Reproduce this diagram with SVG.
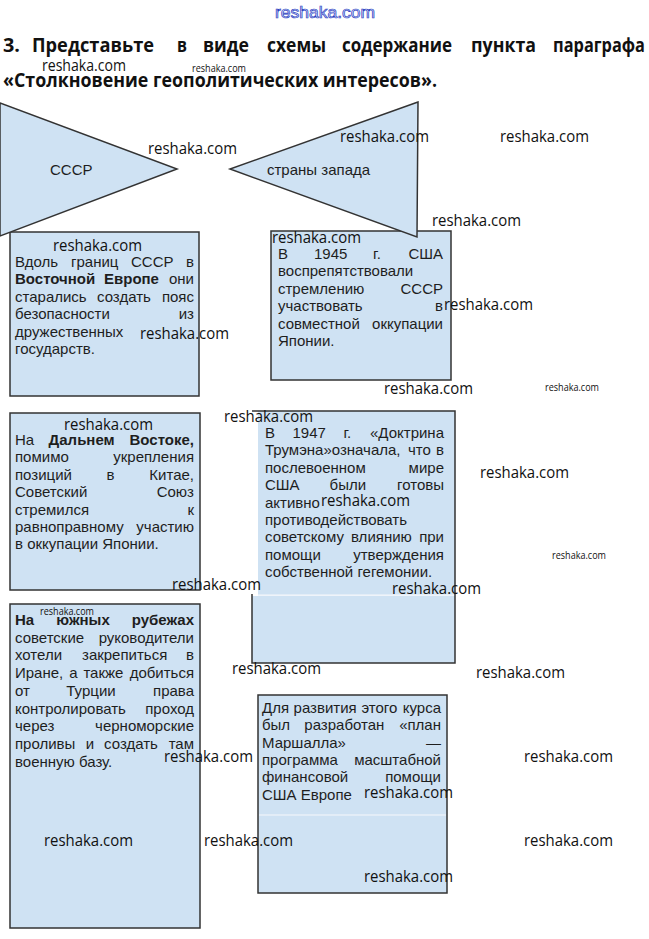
<svg xmlns="http://www.w3.org/2000/svg" width="649" height="939" viewBox="0 0 649 939">
<style>
.bg{fill:#ffffff}
.box{fill:#cfe2f3;stroke:#333;stroke-width:1.5}
.fill{fill:#cfe2f3}
.edge{fill:none;stroke:#333;stroke-width:1.5}
.sep{stroke:#eaf1f9;stroke-width:1.5}
.t{font-family:"Liberation Sans",Arial,sans-serif;font-size:15px;fill:#1e1e1e}
.b{font-weight:bold}
.h{font-family:"Open Sans","DejaVu Sans",sans-serif;font-size:19px;font-weight:bold;fill:#111}
.w{font-family:"Open Sans","Liberation Sans",sans-serif;font-size:16px;fill:#111}
.ws{font-size:10px}
.wt{font-family:"Liberation Sans",Arial,sans-serif;font-size:16px;fill:#e4e8ff;stroke:#2b3fbf;stroke-width:0.7}
</style>
<rect class="bg" x="0" y="0" width="649" height="939"/>

<g id="title">
<text class="h" x="3" y="52" textLength="17" lengthAdjust="spacingAndGlyphs">3.</text>
<text class="h" x="32" y="52" textLength="122" lengthAdjust="spacingAndGlyphs">Представьте</text>
<text class="h" x="177" y="52" textLength="10" lengthAdjust="spacingAndGlyphs">в</text>
<text class="h" x="203" y="52" textLength="46" lengthAdjust="spacingAndGlyphs">виде</text>
<text class="h" x="267" y="52" textLength="59" lengthAdjust="spacingAndGlyphs">схемы</text>
<text class="h" x="342" y="52" textLength="110" lengthAdjust="spacingAndGlyphs">содержание</text>
<text class="h" x="471" y="52" textLength="65" lengthAdjust="spacingAndGlyphs">пункта</text>
<text class="h" x="553" y="52" textLength="92" lengthAdjust="spacingAndGlyphs">параграфа</text>
<text class="h" x="3" y="87" textLength="434" lengthAdjust="spacingAndGlyphs">«Столкновение геополитических интересов».</text>
</g>

<g id="connectors"></g>

<g id="box-east-europe">
<rect class="box" x="10" y="232" width="189" height="164"/>
<text class="t" y="267"><tspan x="15">Вдоль</tspan><tspan x="71">границ</tspan><tspan x="131">СССР</tspan><tspan x="194" text-anchor="end">в</tspan></text>
<text class="t" y="284.4"><tspan x="15" class="b">Восточной</tspan><tspan x="104" class="b">Европе</tspan><tspan x="194" text-anchor="end">они</tspan></text>
<text class="t" y="301.8"><tspan x="15">старались</tspan><tspan x="97">создать</tspan><tspan x="194" text-anchor="end">пояс</tspan></text>
<text class="t" y="319.2"><tspan x="15">безопасности</tspan><tspan x="194" text-anchor="end">из</tspan></text>
<text class="t" x="15" y="336.6">дружественных</text>
<text class="t" x="15" y="354">государств.</text>
</g>

<g id="box-japan-1945">
<rect class="box" x="271" y="231" width="180" height="149"/>
<text class="t" y="259"><tspan x="278">В</tspan><tspan x="314">1945</tspan><tspan x="373">г.</tspan><tspan x="443" text-anchor="end">США</tspan></text>
<text class="t" x="278" y="276.4">воспрепятствовали</text>
<text class="t" y="293.8"><tspan x="278">стремлению</tspan><tspan x="443" text-anchor="end">СССР</tspan></text>
<text class="t" y="311.2"><tspan x="278">участвовать</tspan><tspan x="443" text-anchor="end">в</tspan></text>
<text class="t" y="328.6"><tspan x="278">совместной</tspan><tspan x="443" text-anchor="end">оккупации</tspan></text>
<text class="t" x="278" y="346">Японии.</text>
</g>

<g id="box-far-east">
<rect class="box" x="10" y="413" width="190" height="177"/>
<text class="t" y="445"><tspan x="15">На</tspan><tspan x="48.6" class="b">Дальнем</tspan><tspan x="194" text-anchor="end" class="b">Востоке,</tspan></text>
<text class="t" y="462.4"><tspan x="15">помимо</tspan><tspan x="194" text-anchor="end">укрепления</tspan></text>
<text class="t" y="479.8"><tspan x="15">позиций</tspan><tspan x="106.6">в</tspan><tspan x="194" text-anchor="end">Китае,</tspan></text>
<text class="t" y="497.2"><tspan x="15">Советский</tspan><tspan x="194" text-anchor="end">Союз</tspan></text>
<text class="t" y="514.6"><tspan x="15">стремился</tspan><tspan x="194" text-anchor="end">к</tspan></text>
<text class="t" y="532"><tspan x="15">равноправному</tspan><tspan x="194" text-anchor="end">участию</tspan></text>
<text class="t" x="15" y="549.4">в оккупации Японии.</text>
</g>

<g id="box-truman">
<rect class="fill" x="258" y="411" width="197" height="184"/>
<rect class="fill" x="252" y="596" width="203" height="67"/>
<line class="sep" x1="258" y1="595" x2="454" y2="595"/>
<path class="edge" d="M252,411 H455 V663 H252 V594"/>
<text class="t" y="438"><tspan x="265">В</tspan><tspan x="292.5">1947</tspan><tspan x="343.4">г.</tspan><tspan x="444" text-anchor="end">«Доктрина</tspan></text>
<text class="t" y="455.4"><tspan x="265">Трумэна»означала,</tspan><tspan x="408">что</tspan><tspan x="444" text-anchor="end">в</tspan></text>
<text class="t" y="472.8"><tspan x="265">послевоенном</tspan><tspan x="444" text-anchor="end">мире</tspan></text>
<text class="t" y="490.2"><tspan x="265">США</tspan><tspan x="329.6">были</tspan><tspan x="444" text-anchor="end">готовы</tspan></text>
<text class="t" x="265" y="507.6">активно</text>
<text class="t" x="265" y="525">противодействовать</text>
<text class="t" y="542.4"><tspan x="265">советскому</tspan><tspan x="351">влиянию</tspan><tspan x="444" text-anchor="end">при</tspan></text>
<text class="t" y="559.8"><tspan x="265">помощи</tspan><tspan x="444" text-anchor="end">утверждения</tspan></text>
<text class="t" x="265" y="577.2">собственной гегемонии.</text>
</g>

<g id="box-south">
<rect class="box" x="10" y="604" width="190" height="324"/>
<text class="t b" y="625"><tspan x="15">На</tspan><tspan x="56.3">южных</tspan><tspan x="194" text-anchor="end">рубежах</tspan></text>
<text class="t" y="642.7"><tspan x="15">советские</tspan><tspan x="194" text-anchor="end">руководители</tspan></text>
<text class="t" y="660.4"><tspan x="15">хотели</tspan><tspan x="82">закрепиться</tspan><tspan x="194" text-anchor="end">в</tspan></text>
<text class="t" y="678.1"><tspan x="15">Иране,</tspan><tspan x="69.2">а</tspan><tspan x="83.4">также</tspan><tspan x="194" text-anchor="end">добиться</tspan></text>
<text class="t" y="695.8"><tspan x="15">от</tspan><tspan x="66.3">Турции</tspan><tspan x="194" text-anchor="end">права</tspan></text>
<text class="t" y="713.5"><tspan x="15">контролировать</tspan><tspan x="194" text-anchor="end">проход</tspan></text>
<text class="t" y="731.2"><tspan x="15">через</tspan><tspan x="194" text-anchor="end">черноморские</tspan></text>
<text class="t" y="748.9"><tspan x="15">проливы</tspan><tspan x="85.7">и</tspan><tspan x="104.1">создать</tspan><tspan x="194" text-anchor="end">там</tspan></text>
<text class="t" x="15" y="766.6">военную базу.</text>
</g>

<g id="box-marshall">
<rect class="box" x="258" y="695" width="189" height="198"/>
<line class="sep" x1="259" y1="815" x2="446" y2="815"/>
<text class="t" y="713"><tspan x="262">Для</tspan><tspan x="293.6">развития</tspan><tspan x="361.5">этого</tspan><tspan x="441" text-anchor="end">курса</tspan></text>
<text class="t" y="730.3"><tspan x="262">был</tspan><tspan x="304.3">разработан</tspan><tspan x="441" text-anchor="end">«план</tspan></text>
<text class="t" y="747.6"><tspan x="262">Маршалла»</tspan><tspan x="441" text-anchor="end">—</tspan></text>
<text class="t" y="764.9"><tspan x="262">программа</tspan><tspan x="441" text-anchor="end">масштабной</tspan></text>
<text class="t" y="782.2"><tspan x="262">финансовой</tspan><tspan x="441" text-anchor="end">помощи</tspan></text>
<text class="t" x="262" y="799.5">США Европе</text>
</g>

<g id="node-ussr">
<polygon class="box" points="0,103 177,169 0,236"/>
<text class="t" x="50" y="175">СССР</text>
</g>

<g id="node-west">
<polygon class="box" points="418,102 230,169 417,237"/>
<text class="t" x="267" y="175">страны запада</text>
</g>

<g id="watermarks">
<text class="wt" x="275" y="18" textLength="100" lengthAdjust="spacingAndGlyphs">reshaka.com</text>
<text class="w" x="42" y="71" textLength="84" lengthAdjust="spacingAndGlyphs">reshaka.com</text>
<text class="w ws" x="192" y="72" textLength="54" lengthAdjust="spacingAndGlyphs">reshaka.com</text>
<text class="w" x="148" y="154" textLength="89" lengthAdjust="spacingAndGlyphs">reshaka.com</text>
<text class="w" x="340" y="142" textLength="89" lengthAdjust="spacingAndGlyphs">reshaka.com</text>
<text class="w" x="500" y="142" textLength="89" lengthAdjust="spacingAndGlyphs">reshaka.com</text>
<text class="w" x="432" y="226" textLength="89" lengthAdjust="spacingAndGlyphs">reshaka.com</text>
<text class="w" x="53" y="251" textLength="89" lengthAdjust="spacingAndGlyphs">reshaka.com</text>
<text class="w" x="272" y="243" textLength="89" lengthAdjust="spacingAndGlyphs">reshaka.com</text>
<text class="w" x="140" y="339" textLength="89" lengthAdjust="spacingAndGlyphs">reshaka.com</text>
<text class="w" x="444" y="310" textLength="89" lengthAdjust="spacingAndGlyphs">reshaka.com</text>
<text class="w" x="384" y="394" textLength="89" lengthAdjust="spacingAndGlyphs">reshaka.com</text>
<text class="w ws" x="545" y="391" textLength="54" lengthAdjust="spacingAndGlyphs">reshaka.com</text>
<text class="w" x="64" y="430" textLength="89" lengthAdjust="spacingAndGlyphs">reshaka.com</text>
<text class="w" x="224" y="422" textLength="89" lengthAdjust="spacingAndGlyphs">reshaka.com</text>
<text class="w" x="480" y="478" textLength="89" lengthAdjust="spacingAndGlyphs">reshaka.com</text>
<text class="w" x="321" y="506" textLength="89" lengthAdjust="spacingAndGlyphs">reshaka.com</text>
<text class="w ws" x="552" y="559" textLength="54" lengthAdjust="spacingAndGlyphs">reshaka.com</text>
<text class="w" x="172" y="590" textLength="89" lengthAdjust="spacingAndGlyphs">reshaka.com</text>
<text class="w" x="392" y="594" textLength="89" lengthAdjust="spacingAndGlyphs">reshaka.com</text>
<text class="w ws" x="40" y="615" textLength="54" lengthAdjust="spacingAndGlyphs">reshaka.com</text>
<text class="w" x="232" y="674" textLength="89" lengthAdjust="spacingAndGlyphs">reshaka.com</text>
<text class="w" x="476" y="678" textLength="89" lengthAdjust="spacingAndGlyphs">reshaka.com</text>
<text class="w" x="164" y="762" textLength="89" lengthAdjust="spacingAndGlyphs">reshaka.com</text>
<text class="w" x="524" y="762" textLength="89" lengthAdjust="spacingAndGlyphs">reshaka.com</text>
<text class="w" x="364" y="798" textLength="89" lengthAdjust="spacingAndGlyphs">reshaka.com</text>
<text class="w" x="44" y="846" textLength="89" lengthAdjust="spacingAndGlyphs">reshaka.com</text>
<text class="w" x="204" y="846" textLength="89" lengthAdjust="spacingAndGlyphs">reshaka.com</text>
<text class="w" x="524" y="846" textLength="89" lengthAdjust="spacingAndGlyphs">reshaka.com</text>
<text class="w" x="364" y="882" textLength="89" lengthAdjust="spacingAndGlyphs">reshaka.com</text>
</g>
</svg>
